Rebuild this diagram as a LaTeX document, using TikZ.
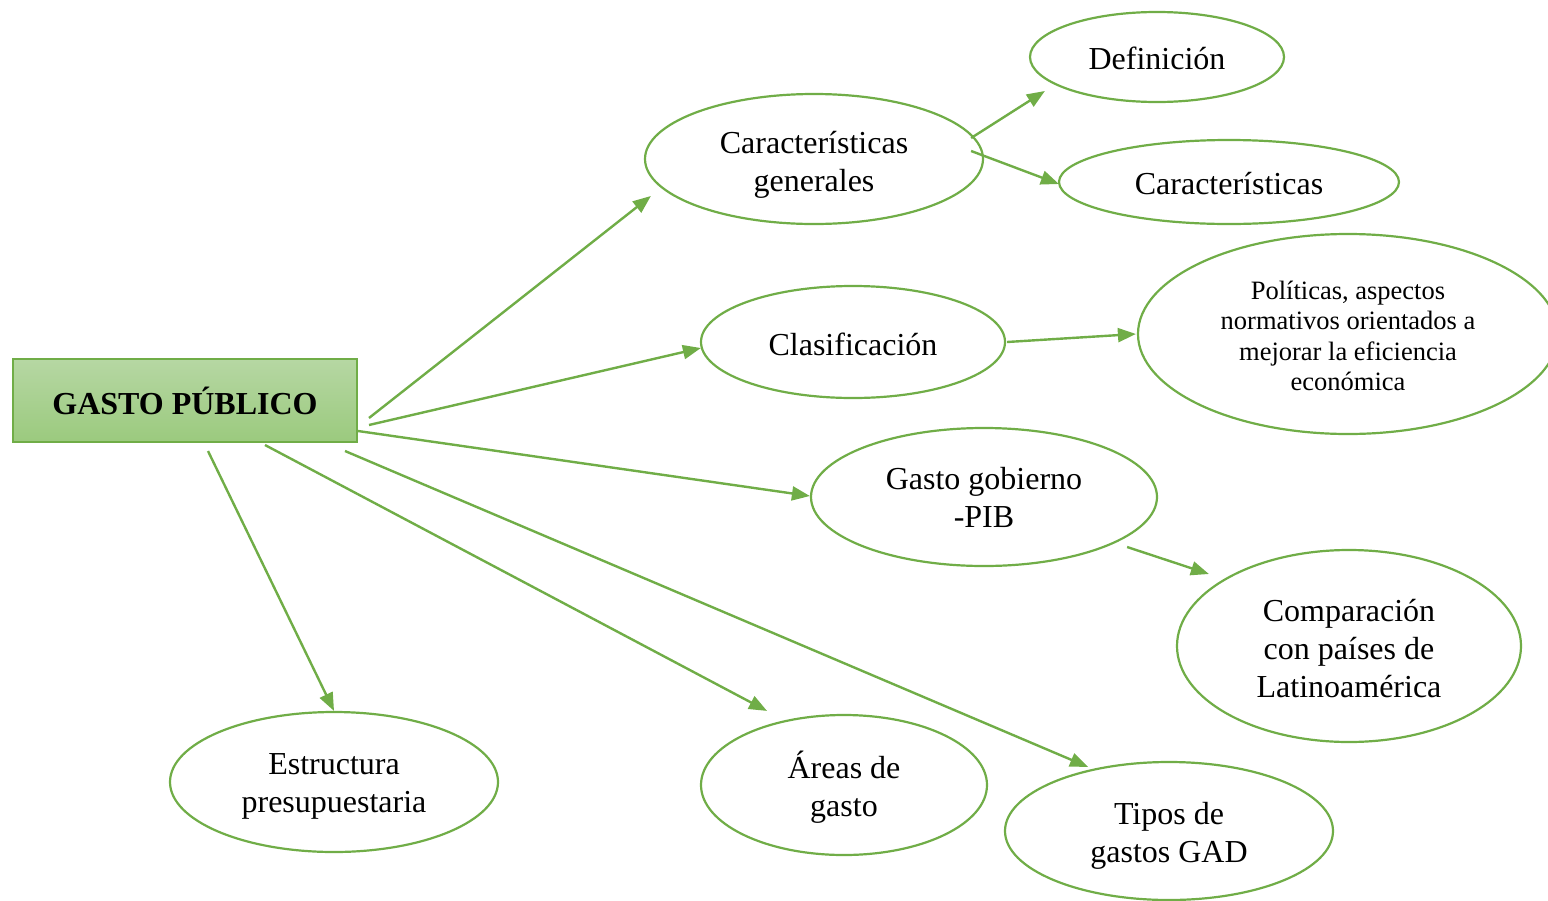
\documentclass[tikz,border=0pt]{standalone}
\usepackage{fontspec}
\setmainfont{Liberation Serif}
\usetikzlibrary{shapes.geometric,arrows.meta}
\definecolor{leaf}{HTML}{70AD47}
\definecolor{boxtop}{RGB}{182,215,163}
\definecolor{boxbot}{RGB}{155,202,126}
% centred block of lines, drawn #1 pt lower than where it is centred
\newcommand{\lowered}[2]{\raisebox{-#1pt}[\height][\depth]{\begin{tabular}{@{}c@{}}#2\end{tabular}}}
\tikzset{
  bubble/.style={ellipse, draw=leaf, line width=2.2pt, fill=white, inner sep=0pt,
    align=center, font=\fontsize{32}{38}\selectfont},
  smallbubble/.style={bubble, font=\fontsize{26.5}{30.5}\selectfont},
  titlebox/.style={rectangle, draw=leaf, line width=2pt, top color=boxtop, bottom color=boxbot,
    minimum width=344pt, minimum height=83pt, inner sep=0pt,
    font=\fontsize{32}{38}\selectfont\bfseries},
  link/.style={draw=leaf, line width=2.4pt, -{Triangle[length=18pt,width=14pt]}}
}
\begin{document}
\begin{tikzpicture}[x=1pt,y=-1pt]
\useasboundingbox (0,0) rectangle (1548,900);
\clip (0,0) rectangle (1548,900);

% central topic
\node[titlebox] (gp) at (185,400.5) {GASTO PÚBLICO};

% first-level topics
\node[bubble, minimum width=338pt, minimum height=130pt] (cg) at (814,159) {\lowered{6}{Características\\generales}};
\node[bubble, minimum width=304pt, minimum height=112pt] (cl) at (853,342) {\lowered{6}{Clasificación}};
\node[bubble, minimum width=346pt, minimum height=138pt] (gg) at (984,497) {Gasto gobierno\\-PIB};
\node[bubble, minimum width=328pt, minimum height=140pt] (ep) at (334,782) {\lowered{4}{Estructura\\presupuestaria}};
\node[bubble, minimum width=286pt, minimum height=140pt] (ar) at (844,785) {\lowered{4}{Áreas de\\gasto}};
\node[bubble, minimum width=328pt, minimum height=138pt] (tg) at (1169,831) {\lowered{5}{Tipos de\\gastos GAD}};

% second-level topics
\node[bubble, minimum width=254pt, minimum height=90pt] (df) at (1157,57) {\lowered{5}{Definición}};
\node[bubble, minimum width=340pt, minimum height=84pt] (ca) at (1229,182) {\lowered{5}{Características}};
\node[smallbubble, minimum width=420pt, minimum height=200pt] (po) at (1348,334)
  {\lowered{5}{Políticas, aspectos\\normativos orientados a\\mejorar la eficiencia\\económica}};
\node[bubble, minimum width=344pt, minimum height=192pt] (cp) at (1349,646)
  {\lowered{6}{Comparación\\con países de\\Latinoamérica}};

% connectors from the central topic
\draw[link] ([shift={(11,17.5)}]gp.east) -- ([shift={(7,37)}]cg.west);
\draw[link] ([shift={(11,24.5)}]gp.east) -- ([shift={(1,6)}]cl.west);
\draw[link] ([shift={(0,-12)}]gp.south east) -- ([shift={(0,-1)}]gg.west);
\draw[link] ([shift={(23,8)}]gp.south) -- (ep.north);
\draw[link] ([shift={(80,2)}]gp.south) -- ([shift={(-77,-3)}]ar.north);
\draw[link] ([shift={(160,8)}]gp.south) -- ([shift={(-81,6)}]tg.north);

% connectors between topics
\draw[link] ([shift={(-13,-21)}]cg.east) -- ([shift={(16,34)}]df.west);
\draw[link] ([shift={(-13,-8)}]cg.east) -- ([shift={(1,2)}]ca.west);
\draw[link] ([shift={(1,0)}]cl.east) -- ([shift={(-1,0)}]po.west);
\draw[link] ([shift={(-31,50)}]gg.east) -- ([shift={(33,-72)}]cp.west);
\end{tikzpicture}
\end{document}
